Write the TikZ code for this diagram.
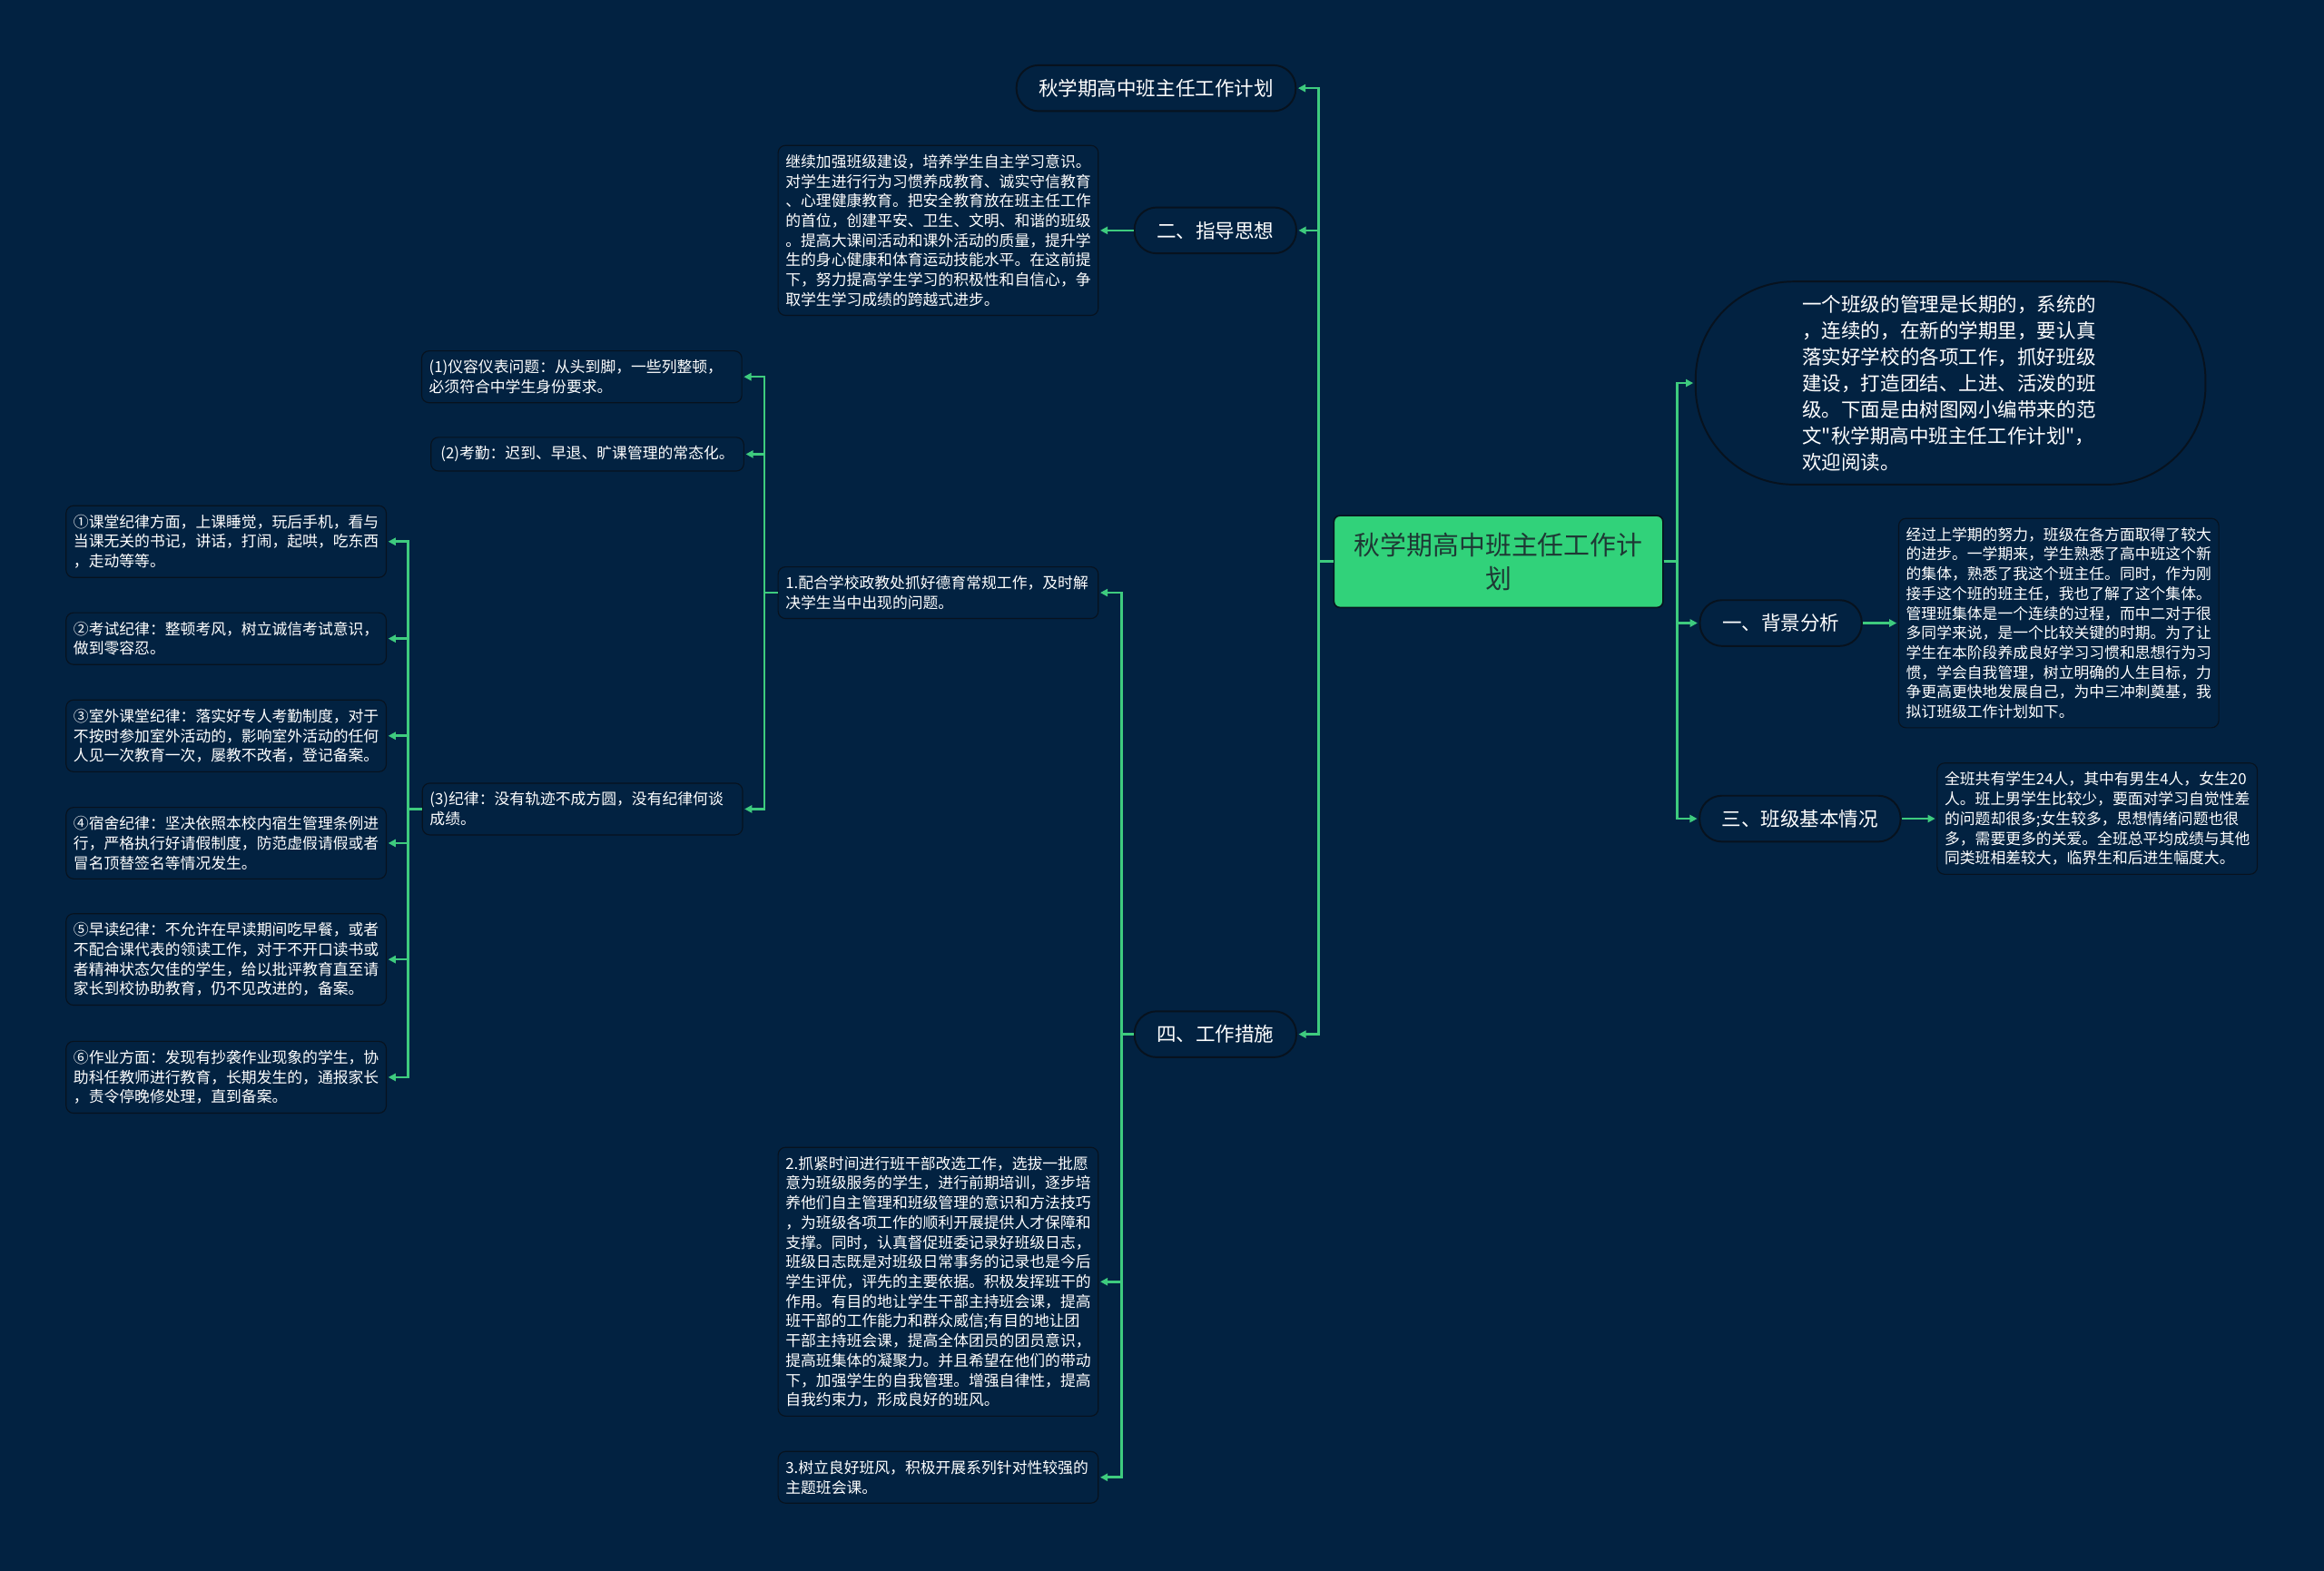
\documentclass[tikz,border=0pt]{standalone}
\usepackage{fontspec}
\setmainfont{Noto Sans CJK SC}[Ligatures=TeXOff]
\usetikzlibrary{arrows.meta}
\definecolor{bgnavy}{HTML}{022241}
\definecolor{edge}{HTML}{3ECB7E}
\definecolor{rootgreen}{HTML}{31D27A}
\definecolor{rootink}{HTML}{1E3834}
\definecolor{rim}{HTML}{07121E}
\tikzset{root/.style={draw=rim,line width=1pt,fill=rootgreen,rounded corners=4pt,text=rootink,align=center,
   font=\fontsize{17.7}{22.5}\selectfont,text width=196pt,minimum width=222pt,minimum height=62pt},
 pill/.style={draw=rim,line width=1.2pt,fill=bgnavy,rounded corners=15pt,text=white,
   font=\fontsize{13.2}{16}\selectfont,minimum height=31pt,inner xsep=15pt},
 big/.style={draw=rim,line width=1.2pt,fill=bgnavy,rounded corners=66pt,text=white,align=left,
   font=\fontsize{13.2}{17.8}\selectfont,text width=200pt,minimum width=344pt,minimum height=137pt},
 tb/.style={draw=rim,line width=.7pt,fill=bgnavy,rounded corners=5pt,text=white,align=left,
   font=\fontsize{10.3}{13.3}\selectfont,text width=206pt,inner xsep=5pt,inner ysep=6pt},
 tbs/.style={tb,text width=,inner xsep=6.5pt},
 flow/.style={draw=edge,line width=1.6pt,-{Triangle[length=5pt,width=5pt]},shorten >=1pt}}

\begin{document}
\begin{tikzpicture}[x=1pt,y=-1pt]
\useasboundingbox (0,0) rectangle (1568,1060);
\fill[bgnavy] (0,0) rectangle (1568,1060);
% centre
\node[root](root) at (1011,379){秋学期高中班主任工作计\\划};
% left side
\node[pill](top) at (780,59.5){秋学期高中班主任工作计划};
\node[pill](zd) at (820,155.5){二、指导思想};
\node[pill](gz) at (820,698){四、工作措施};
\node[tb](zdt) at (633,155.5){继续加强班级建设，培养学生自主学习意识。\\对学生进行行为习惯养成教育、诚实守信教育\\、心理健康教育。把安全教育放在班主任工作\\的首位，创建平安、卫生、文明、和谐的班级\\。提高大课间活动和课外活动的质量，提升学\\生的身心健康和体育运动技能水平。在这前提\\下，努力提高学生学习的积极性和自信心，争\\取学生学习成绩的跨越式进步。};
\node[tb](m1) at (633,400){1.配合学校政教处抓好德育常规工作，及时解\\决学生当中出现的问题。};
\node[tb](m2) at (633,865){2.抓紧时间进行班干部改选工作，选拔一批愿\\意为班级服务的学生，进行前期培训，逐步培\\养他们自主管理和班级管理的意识和方法技巧\\，为班级各项工作的顺利开展提供人才保障和\\支撑。同时，认真督促班委记录好班级日志，\\班级日志既是对班级日常事务的记录也是今后\\学生评优，评先的主要依据。积极发挥班干的\\作用。有目的地让学生干部主持班会课，提高\\班干部的工作能力和群众威信;有目的地让团\\干部主持班会课，提高全体团员的团员意识，\\提高班集体的凝聚力。并且希望在他们的带动\\下，加强学生的自我管理。增强自律性，提高\\自我约束力，形成良好的班风。};
\node[tb](m3) at (633,997){3.树立良好班风，积极开展系列针对性较强的\\主题班会课。};
\node[tb](j1) at (392.5,254.3){(1)仪容仪表问题：从头到脚，一些列整顿，\\必须符合中学生身份要求。};
\node[tbs](j2) at (396.3,306.5){(2)考勤：迟到、早退、旷课管理的常态化。};
\node[tb](j3) at (393,546){(3)纪律：没有轨迹不成方圆，没有纪律何谈\\成绩。};
\node[tb](c1) at (152.6,365.5){①课堂纪律方面，上课睡觉，玩后手机，看与\\当课无关的书记，讲话，打闹，起哄，吃东西\\，走动等等。};
\node[tb](c2) at (152.6,431){②考试纪律：整顿考风，树立诚信考试意识，\\做到零容忍。};
\node[tb](c3) at (152.6,496.6){③室外课堂纪律：落实好专人考勤制度，对于\\不按时参加室外活动的，影响室外活动的任何\\人见一次教育一次，屡教不改者，登记备案。};
\node[tb](c4) at (152.6,569){④宿舍纪律：坚决依照本校内宿生管理条例进\\行，严格执行好请假制度，防范虚假请假或者\\冒名顶替签名等情况发生。};
\node[tb](c5) at (152.6,647.5){⑤早读纪律：不允许在早读期间吃早餐，或者\\不配合课代表的领读工作，对于不开口读书或\\者精神状态欠佳的学生，给以批评教育直至请\\家长到校协助教育，仍不见改进的，备案。};
\node[tb](c6) at (152.6,727){⑥作业方面：发现有抄袭作业现象的学生，协\\助科任教师进行教育，长期发生的，通报家长\\，责令停晚修处理，直到备案。};
% right side
\node[big](intro) at (1316,258.5){一个班级的管理是长期的，系统的\\，连续的，在新的学期里，要认真\\落实好学校的各项工作，抓好班级\\建设，打造团结、上进、活泼的班\\级。下面是由树图网小编带来的范\\文"秋学期高中班主任工作计划"，\\欢迎阅读。};
\node[pill](bj) at (1201.5,420.5){一、背景分析};
\node[pill](qk) at (1214.5,552.5){三、班级基本情况};
\node[tb](bjt) at (1389,420.5){经过上学期的努力，班级在各方面取得了较大\\的进步。一学期来，学生熟悉了高中班这个新\\的集体，熟悉了我这个班主任。同时，作为刚\\接手这个班的班主任，我也了解了这个集体。\\管理班集体是一个连续的过程，而中二对于很\\多同学来说，是一个比较关键的时期。为了让\\学生在本阶段养成良好学习习惯和思想行为习\\惯，学会自我管理，树立明确的人生目标，力\\争更高更快地发展自己，为中三冲刺奠基，我\\拟订班级工作计划如下。};
\node[tb](qkt) at (1415,552.5){全班共有学生24人，其中有男生4人，女生20\\人。班上男学生比较少，要面对学习自觉性差\\的问题却很多;女生较多，思想情绪问题也很\\多，需要更多的关爱。全班总平均成绩与其他\\同类班相差较大，临界生和后进生幅度大。};
% connectors
\foreach \n in {top,zd,gz}\draw[flow](root.west)--++(-10,0)|-(\n.east);
\foreach \n in {intro,bj,qk}\draw[flow](root.east)--++(9,0)|-(\n.west);
\draw[flow](zd.west)--(zdt.east);
\draw[flow](bj.east)--(bjt.west);\draw[flow](qk.east)--(qkt.west);
\foreach \n in {m1,m2,m3}\draw[flow](gz.west)--++(-8,0)|-(\n.east);
\foreach \n in {j1,j2,j3}\draw[flow](m1.west)--++(-9,0)|-(\n.east);
\foreach \n in {c1,c2,c3,c4,c5,c6}\draw[flow](j3.west)--++(-9.5,0)|-(\n.east);
\end{tikzpicture}
\end{document}
